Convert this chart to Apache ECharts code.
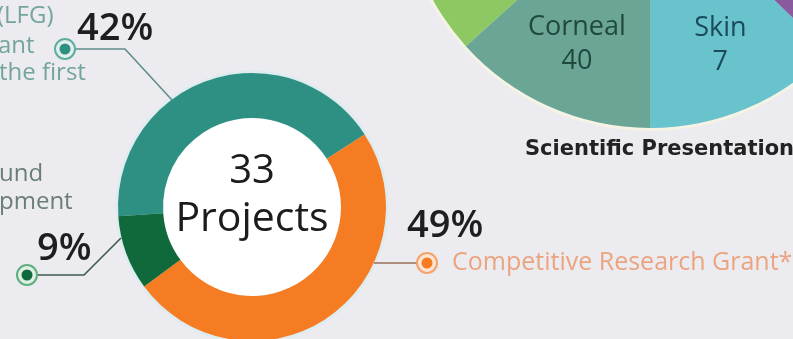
<!DOCTYPE html>
<html>
<head>
<meta charset="utf-8">
<script src="https://cdn.jsdelivr.net/npm/echarts@6/dist/echarts.min.js"></script>
<style>
  html, body { margin: 0; padding: 0; background: #ecebf0; }
  #chart { width: 793px; height: 339px; }
</style>
</head>
<body>
<div id="chart"></div>
<script>
// Funding split of the projects (donut)
const fundingNames = ['LFG Grant', 'Competitive Research Grant*', 'Fund Development'];
const fundingShares = [42, 49, 9];
const fundingColors = ['#2e9082', '#f57c22', '#10693a'];
const projectCount = 33;

// Scientific presentations by topic (pie, upper part lies above the page)
const topicNames = ['Skin', 'Corneal', 'Other topic A', 'Other topic B'];
const topicValues = [7, 40, 60, 162];
const topicColors = ['#69c3cc', '#6aa596', '#8dc863', '#8a5a9e'];
const topicLabelColors = ['#1b4a5a', '#21483f', '#333', '#333'];
const topicShownLabels = [true, true, false, false];

// Side texts
const leftTexts = [
  { text: '(LFG)', x: -3, y: 16, color: '#74a59d' },
  { text: 'ant', x: -2, y: 46, color: '#74a59d' },
  { text: 'the first', x: -1, y: 73, color: '#74a59d' },
  { text: 'und', x: -1, y: 174, color: '#6b7d79' },
  { text: 'pment', x: -1, y: 202, color: '#6b7d79' }
];

// Donut geometry and callouts
const donutCenter = [252, 207];
const donutRadius = [89, 134];
const callouts = [
  { label: [77, 29], line: [[172, 100], [125, 49], [75, 49]], marker: [65, 49], lineColor: '#5f8f89', ring: '#5fae9f', ringFill: '#e2f0ed' },
  { label: [407, 226], line: [[374, 263], [417, 263]], marker: [427, 263], lineColor: '#9a6f57', ring: '#f3a36a', ringFill: '#fbe4d2' },
  { label: [37, 249], line: [[121, 238], [84, 275], [37, 275]], marker: [27, 275], lineColor: '#3d5c4b', ring: '#5fae7f', ringFill: '#dff0e4' }
];

const pieCenter = [650, -120];
const pieRadius = 248;
const pieLabelRadius = 180;

const chart = echarts.init(document.getElementById('chart'), null, { renderer: 'canvas' });

const graphics = [];
callouts.forEach(function (c, i) {
  graphics.push({
    type: 'polyline', silent: true, z: 5,
    shape: { points: c.line },
    style: { stroke: c.lineColor, lineWidth: 1.6, fill: null }
  });
  graphics.push({
    type: 'circle', silent: true, z: 6,
    shape: { cx: c.marker[0], cy: c.marker[1], r: 10 },
    style: { fill: c.ringFill, stroke: c.ring, lineWidth: 2 }
  });
  graphics.push({
    type: 'circle', silent: true, z: 7,
    shape: { cx: c.marker[0], cy: c.marker[1], r: 5.5 },
    style: { fill: fundingColors[i] }
  });
});
leftTexts.forEach(function (t) {
  graphics.push({
    type: 'text', silent: true, z: 5, x: t.x, y: t.y,
    style: { text: t.text, fill: t.color, font: '24px "Open Sans"', align: 'left', verticalAlign: 'middle' }
  });
});
graphics.push({
  type: 'text', silent: true, z: 5, x: 452, y: 263,
  style: { text: fundingNames[1], fill: '#eba47f', font: '25px "Open Sans"', align: 'left', verticalAlign: 'middle' }
});
graphics.push({
  type: 'text', silent: true, z: 5, x: 525, y: 150,
  style: { text: 'Scientific Presentation', fill: '#222', font: 'bold 21px "DejaVu Sans"', align: 'left', verticalAlign: 'middle' }
});
graphics.push({
  type: 'text', silent: true, z: 10, x: donutCenter[0], y: 172,
  style: { text: String(projectCount), fill: '#1c1c1c', font: '40px "Open Sans"', align: 'center', verticalAlign: 'middle' }
});
graphics.push({
  type: 'text', silent: true, z: 10, x: donutCenter[0], y: 219,
  style: { text: 'Projects', fill: '#1c1c1c', font: '41px "Open Sans"', align: 'center', verticalAlign: 'middle' }
});

const option = {
  backgroundColor: '#ecebf0',
  animation: false,
  graphic: graphics,
  series: [
    {
      // pale rim around the topic pie
      type: 'pie', silent: true, center: pieCenter, radius: [pieRadius, pieRadius + 3],
      label: { show: false }, labelLine: { show: false },
      data: [{ value: 1, itemStyle: { color: '#f5f3e4' } }]
    },
    {
      type: 'pie', silent: true, center: pieCenter, radius: [0, pieRadius],
      clockwise: true, startAngle: 316, minAngle: 46,
      label: {
        show: true, position: 'inside', fontFamily: 'Open Sans', fontSize: 27, lineHeight: 34,
        formatter: function (p) { return p.name + '\n' + p.value; }
      },
      labelLine: { show: false },
      labelLayout: function (p) {
        const r = p.labelRect;
        const mx = r.x + r.width / 2, my = r.y + r.height / 2;
        const dx = mx - pieCenter[0], dy = my - pieCenter[1];
        const d = Math.sqrt(dx * dx + dy * dy) || 1;
        const k = pieLabelRadius / d;
        return { x: pieCenter[0] + dx * k, y: pieCenter[1] + dy * k, align: 'center', verticalAlign: 'middle' };
      },
      data: topicValues.map(function (v, i) {
        return {
          name: topicNames[i], value: v,
          itemStyle: { color: topicColors[i] },
          label: { show: topicShownLabels[i], color: topicLabelColors[i] }
        };
      })
    },
    {
      // light rim around the donut
      type: 'pie', silent: true, center: donutCenter, radius: [donutRadius[1], donutRadius[1] + 2.5],
      label: { show: false }, labelLine: { show: false },
      data: [{ value: 1, itemStyle: { color: '#dcecef' } }]
    },
    {
      // white centre disc
      type: 'pie', silent: true, center: donutCenter, radius: [0, donutRadius[0]],
      label: { show: false }, labelLine: { show: false },
      data: [{ value: 1, itemStyle: { color: '#ffffff' } }]
    },
    {
      type: 'pie', silent: true, center: donutCenter, radius: donutRadius,
      clockwise: true, startAngle: 184,
      label: {
        show: true, position: 'outside', fontFamily: 'Open Sans', fontWeight: 600, fontSize: 38, color: '#1e1e1e',
        formatter: function (p) { return p.value + '%'; }
      },
      labelLine: { show: false },
      labelLayout: function (p) {
        const c = callouts[p.dataIndex];
        return { x: c.label[0], y: c.label[1], align: 'left', verticalAlign: 'middle' };
      },
      data: fundingShares.map(function (v, i) {
        return { name: fundingNames[i], value: v, itemStyle: { color: fundingColors[i] } };
      })
    }
  ]
};
chart.setOption(option);
</script>
</body>
</html>
